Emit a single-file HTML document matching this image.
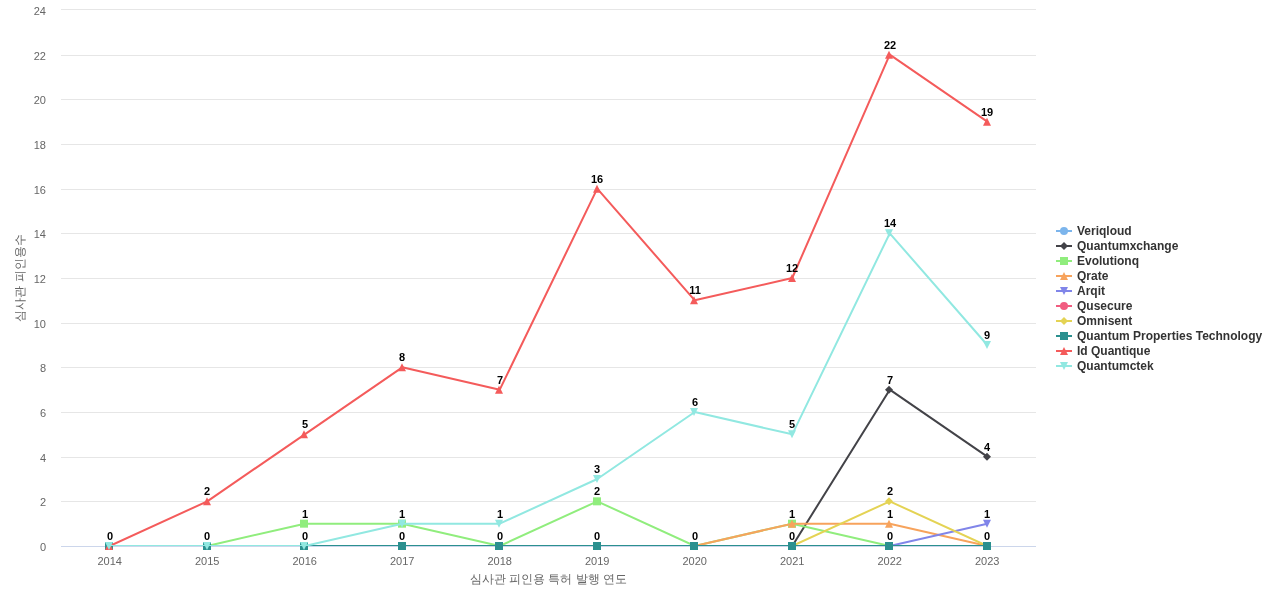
<!DOCTYPE html>
<html lang="ko"><head><meta charset="utf-8"><title>심사관 피인용수</title>
<style>html,body{margin:0;padding:0;background:#fff;overflow:hidden}svg{display:block;font-family:"Liberation Sans","WenQuanYi Zen Hei",sans-serif}.al text{font-size:11px;fill:#666}.dl text{font-size:11px;font-weight:bold;fill:#000;text-anchor:middle}.lg text{font-size:12px;font-weight:bold;fill:#333}</style></head><body>
<svg width="1280" height="600" viewBox="0 0 1280 600">
<rect x="0" y="0" width="1280" height="600" fill="#ffffff"/>
<g stroke="#e6e6e6" stroke-width="1" fill="none">
<path d="M61 546.5L1036 546.5"/>
<path d="M61 501.5L1036 501.5"/>
<path d="M61 457.5L1036 457.5"/>
<path d="M61 412.5L1036 412.5"/>
<path d="M61 367.5L1036 367.5"/>
<path d="M61 323.5L1036 323.5"/>
<path d="M61 278.5L1036 278.5"/>
<path d="M61 233.5L1036 233.5"/>
<path d="M61 189.5L1036 189.5"/>
<path d="M61 144.5L1036 144.5"/>
<path d="M61 99.5L1036 99.5"/>
<path d="M61 55.5L1036 55.5"/>
<path d="M61 9.5L1036 9.5"/>
</g>
<path d="M61 546.5L1036 546.5" stroke="#ccd6eb" stroke-width="1" fill="none"/>
<text x="470 482 494 506 509 521 533 545 548 560 572 576 588 600 603 615" y="583" style="font-size:12px;fill:#666">심사관 피인용 특허 발행 연도</text>
<text x="-20 -8 4 16 20 32 44 56" y="278" transform="rotate(270 24 278)" style="font-size:12px;fill:#666">심사관 피인용수</text>
<defs><clipPath id="pc"><rect x="61" y="10" width="975" height="536"/></clipPath></defs>
<g clip-path="url(#pc)"><path d="M109.75 546 L207.25 546 L304.75 546 L402.25 546 L499.75 546 L597.25 546 L694.75 546 L792.25 546 L889.75 546 L987.25 546" fill="none" stroke="#7cb5ec" stroke-width="2" stroke-linejoin="round" stroke-linecap="round"/></g>
<g>
<circle cx="109" cy="546" r="4" fill="#7cb5ec"/>
<circle cx="207" cy="546" r="4" fill="#7cb5ec"/>
<circle cx="304" cy="546" r="4" fill="#7cb5ec"/>
<circle cx="402" cy="546" r="4" fill="#7cb5ec"/>
<circle cx="499" cy="546" r="4" fill="#7cb5ec"/>
<circle cx="597" cy="546" r="4" fill="#7cb5ec"/>
<circle cx="694" cy="546" r="4" fill="#7cb5ec"/>
<circle cx="792" cy="546" r="4" fill="#7cb5ec"/>
<circle cx="889" cy="546" r="4" fill="#7cb5ec"/>
<circle cx="987" cy="546" r="4" fill="#7cb5ec"/>
</g>
<g clip-path="url(#pc)"><path d="M109.75 546 L207.25 546 L304.75 546 L402.25 546 L499.75 546 L597.25 546 L694.75 546 L792.25 546 L889.75 389.67 L987.25 456.67" fill="none" stroke="#434348" stroke-width="2" stroke-linejoin="round" stroke-linecap="round"/></g>
<g>
<path d="M109 542L113 546L109 550L105 546Z" fill="#434348"/>
<path d="M207 542L211 546L207 550L203 546Z" fill="#434348"/>
<path d="M304 542L308 546L304 550L300 546Z" fill="#434348"/>
<path d="M402 542L406 546L402 550L398 546Z" fill="#434348"/>
<path d="M499 542L503 546L499 550L495 546Z" fill="#434348"/>
<path d="M597 542L601 546L597 550L593 546Z" fill="#434348"/>
<path d="M694 542L698 546L694 550L690 546Z" fill="#434348"/>
<path d="M792 542L796 546L792 550L788 546Z" fill="#434348"/>
<path d="M889 385.67L893 389.67L889 393.67L885 389.67Z" fill="#434348"/>
<path d="M987 452.67L991 456.67L987 460.67L983 456.67Z" fill="#434348"/>
</g>
<g clip-path="url(#pc)"><path d="M109.75 546 L207.25 546 L304.75 523.67 L402.25 523.67 L499.75 546 L597.25 501.33 L694.75 546 L792.25 523.67 L889.75 546 L987.25 546" fill="none" stroke="#90ed7d" stroke-width="2" stroke-linejoin="round" stroke-linecap="round"/></g>
<g>
<path d="M105 542L113 542L113 550L105 550Z" fill="#90ed7d"/>
<path d="M203 542L211 542L211 550L203 550Z" fill="#90ed7d"/>
<path d="M300 519.67L308 519.67L308 527.67L300 527.67Z" fill="#90ed7d"/>
<path d="M398 519.67L406 519.67L406 527.67L398 527.67Z" fill="#90ed7d"/>
<path d="M495 542L503 542L503 550L495 550Z" fill="#90ed7d"/>
<path d="M593 497.33L601 497.33L601 505.33L593 505.33Z" fill="#90ed7d"/>
<path d="M690 542L698 542L698 550L690 550Z" fill="#90ed7d"/>
<path d="M788 519.67L796 519.67L796 527.67L788 527.67Z" fill="#90ed7d"/>
<path d="M885 542L893 542L893 550L885 550Z" fill="#90ed7d"/>
<path d="M983 542L991 542L991 550L983 550Z" fill="#90ed7d"/>
</g>
<g clip-path="url(#pc)"><path d="M109.75 546 L207.25 546 L304.75 546 L402.25 546 L499.75 546 L597.25 546 L694.75 546 L792.25 523.67 L889.75 523.67 L987.25 546" fill="none" stroke="#f7a35c" stroke-width="2" stroke-linejoin="round" stroke-linecap="round"/></g>
<g>
<path d="M109 542L113 550L105 550Z" fill="#f7a35c"/>
<path d="M207 542L211 550L203 550Z" fill="#f7a35c"/>
<path d="M304 542L308 550L300 550Z" fill="#f7a35c"/>
<path d="M402 542L406 550L398 550Z" fill="#f7a35c"/>
<path d="M499 542L503 550L495 550Z" fill="#f7a35c"/>
<path d="M597 542L601 550L593 550Z" fill="#f7a35c"/>
<path d="M694 542L698 550L690 550Z" fill="#f7a35c"/>
<path d="M792 519.67L796 527.67L788 527.67Z" fill="#f7a35c"/>
<path d="M889 519.67L893 527.67L885 527.67Z" fill="#f7a35c"/>
<path d="M987 542L991 550L983 550Z" fill="#f7a35c"/>
</g>
<g clip-path="url(#pc)"><path d="M109.75 546 L207.25 546 L304.75 546 L402.25 546 L499.75 546 L597.25 546 L694.75 546 L792.25 546 L889.75 546 L987.25 523.67" fill="none" stroke="#8085e9" stroke-width="2" stroke-linejoin="round" stroke-linecap="round"/></g>
<g>
<path d="M105 542L113 542L109 550Z" fill="#8085e9"/>
<path d="M203 542L211 542L207 550Z" fill="#8085e9"/>
<path d="M300 542L308 542L304 550Z" fill="#8085e9"/>
<path d="M398 542L406 542L402 550Z" fill="#8085e9"/>
<path d="M495 542L503 542L499 550Z" fill="#8085e9"/>
<path d="M593 542L601 542L597 550Z" fill="#8085e9"/>
<path d="M690 542L698 542L694 550Z" fill="#8085e9"/>
<path d="M788 542L796 542L792 550Z" fill="#8085e9"/>
<path d="M885 542L893 542L889 550Z" fill="#8085e9"/>
<path d="M983 519.67L991 519.67L987 527.67Z" fill="#8085e9"/>
</g>
<g clip-path="url(#pc)"><path d="M109.75 546 L207.25 546 L304.75 546 L402.25 546 L499.75 546 L597.25 546 L694.75 546 L792.25 546 L889.75 546 L987.25 546" fill="none" stroke="#f15c80" stroke-width="2" stroke-linejoin="round" stroke-linecap="round"/></g>
<g>
<circle cx="109" cy="546" r="4" fill="#f15c80"/>
<circle cx="207" cy="546" r="4" fill="#f15c80"/>
<circle cx="304" cy="546" r="4" fill="#f15c80"/>
<circle cx="402" cy="546" r="4" fill="#f15c80"/>
<circle cx="499" cy="546" r="4" fill="#f15c80"/>
<circle cx="597" cy="546" r="4" fill="#f15c80"/>
<circle cx="694" cy="546" r="4" fill="#f15c80"/>
<circle cx="792" cy="546" r="4" fill="#f15c80"/>
<circle cx="889" cy="546" r="4" fill="#f15c80"/>
<circle cx="987" cy="546" r="4" fill="#f15c80"/>
</g>
<g clip-path="url(#pc)"><path d="M109.75 546 L207.25 546 L304.75 546 L402.25 546 L499.75 546 L597.25 546 L694.75 546 L792.25 546 L889.75 501.33 L987.25 546" fill="none" stroke="#e4d354" stroke-width="2" stroke-linejoin="round" stroke-linecap="round"/></g>
<g>
<path d="M109 542L113 546L109 550L105 546Z" fill="#e4d354"/>
<path d="M207 542L211 546L207 550L203 546Z" fill="#e4d354"/>
<path d="M304 542L308 546L304 550L300 546Z" fill="#e4d354"/>
<path d="M402 542L406 546L402 550L398 546Z" fill="#e4d354"/>
<path d="M499 542L503 546L499 550L495 546Z" fill="#e4d354"/>
<path d="M597 542L601 546L597 550L593 546Z" fill="#e4d354"/>
<path d="M694 542L698 546L694 550L690 546Z" fill="#e4d354"/>
<path d="M792 542L796 546L792 550L788 546Z" fill="#e4d354"/>
<path d="M889 497.33L893 501.33L889 505.33L885 501.33Z" fill="#e4d354"/>
<path d="M987 542L991 546L987 550L983 546Z" fill="#e4d354"/>
</g>
<g clip-path="url(#pc)"><path d="M109.75 546 L207.25 546 L304.75 546 L402.25 546 L499.75 546 L597.25 546 L694.75 546 L792.25 546 L889.75 546 L987.25 546" fill="none" stroke="#2b908f" stroke-width="2" stroke-linejoin="round" stroke-linecap="round"/></g>
<g>
<path d="M105 542L113 542L113 550L105 550Z" fill="#2b908f"/>
<path d="M203 542L211 542L211 550L203 550Z" fill="#2b908f"/>
<path d="M300 542L308 542L308 550L300 550Z" fill="#2b908f"/>
<path d="M398 542L406 542L406 550L398 550Z" fill="#2b908f"/>
<path d="M495 542L503 542L503 550L495 550Z" fill="#2b908f"/>
<path d="M593 542L601 542L601 550L593 550Z" fill="#2b908f"/>
<path d="M690 542L698 542L698 550L690 550Z" fill="#2b908f"/>
<path d="M788 542L796 542L796 550L788 550Z" fill="#2b908f"/>
<path d="M885 542L893 542L893 550L885 550Z" fill="#2b908f"/>
<path d="M983 542L991 542L991 550L983 550Z" fill="#2b908f"/>
</g>
<g clip-path="url(#pc)"><path d="M109.75 546 L207.25 501.33 L304.75 434.33 L402.25 367.33 L499.75 389.67 L597.25 188.67 L694.75 300.33 L792.25 278 L889.75 54.67 L987.25 121.67" fill="none" stroke="#f45b5b" stroke-width="2" stroke-linejoin="round" stroke-linecap="round"/></g>
<g>
<path d="M109 542L113 550L105 550Z" fill="#f45b5b"/>
<path d="M207 497.33L211 505.33L203 505.33Z" fill="#f45b5b"/>
<path d="M304 430.33L308 438.33L300 438.33Z" fill="#f45b5b"/>
<path d="M402 363.33L406 371.33L398 371.33Z" fill="#f45b5b"/>
<path d="M499 385.67L503 393.67L495 393.67Z" fill="#f45b5b"/>
<path d="M597 184.67L601 192.67L593 192.67Z" fill="#f45b5b"/>
<path d="M694 296.33L698 304.33L690 304.33Z" fill="#f45b5b"/>
<path d="M792 274L796 282L788 282Z" fill="#f45b5b"/>
<path d="M889 50.67L893 58.67L885 58.67Z" fill="#f45b5b"/>
<path d="M987 117.67L991 125.67L983 125.67Z" fill="#f45b5b"/>
</g>
<g clip-path="url(#pc)"><path d="M109.75 546 L207.25 546 L304.75 546 L402.25 523.67 L499.75 523.67 L597.25 479 L694.75 412 L792.25 434.33 L889.75 233.33 L987.25 345" fill="none" stroke="#91e8e1" stroke-width="2" stroke-linejoin="round" stroke-linecap="round"/></g>
<g>
<path d="M105 542L113 542L109 550Z" fill="#91e8e1"/>
<path d="M203 542L211 542L207 550Z" fill="#91e8e1"/>
<path d="M300 542L308 542L304 550Z" fill="#91e8e1"/>
<path d="M398 519.67L406 519.67L402 527.67Z" fill="#91e8e1"/>
<path d="M495 519.67L503 519.67L499 527.67Z" fill="#91e8e1"/>
<path d="M593 475L601 475L597 483Z" fill="#91e8e1"/>
<path d="M690 408L698 408L694 416Z" fill="#91e8e1"/>
<path d="M788 430.33L796 430.33L792 438.33Z" fill="#91e8e1"/>
<path d="M885 229.33L893 229.33L889 237.33Z" fill="#91e8e1"/>
<path d="M983 341L991 341L987 349Z" fill="#91e8e1"/>
</g>
<g class="dl">
<text x="110.06" y="540">0</text>
<text x="207.06" y="495">2</text>
<text x="207.06" y="540">0</text>
<text x="305.06" y="428">5</text>
<text x="305.06" y="518">1</text>
<text x="305.06" y="540">0</text>
<text x="402.06" y="361">8</text>
<text x="402.06" y="518">1</text>
<text x="402.06" y="540">0</text>
<text x="500.06" y="384">7</text>
<text x="500.06" y="518">1</text>
<text x="500.06" y="540">0</text>
<text x="597.12" y="183">16</text>
<text x="597.06" y="473">3</text>
<text x="597.06" y="495">2</text>
<text x="597.06" y="540">0</text>
<text x="695.12" y="294">11</text>
<text x="695.06" y="406">6</text>
<text x="695.06" y="540">0</text>
<text x="792.12" y="272">12</text>
<text x="792.06" y="428">5</text>
<text x="792.06" y="518">1</text>
<text x="792.06" y="540">0</text>
<text x="890.12" y="49">22</text>
<text x="890.12" y="227">14</text>
<text x="890.06" y="384">7</text>
<text x="890.06" y="495">2</text>
<text x="890.06" y="518">1</text>
<text x="890.06" y="540">0</text>
<text x="987.12" y="116">19</text>
<text x="987.06" y="339">9</text>
<text x="987.06" y="451">4</text>
<text x="987.06" y="518">1</text>
<text x="987.06" y="540">0</text>
</g>
<g class="al" text-anchor="middle">
<text x="109.75" y="565">2014</text>
<text x="207.25" y="565">2015</text>
<text x="304.75" y="565">2016</text>
<text x="402.25" y="565">2017</text>
<text x="499.75" y="565">2018</text>
<text x="597.25" y="565">2019</text>
<text x="694.75" y="565">2020</text>
<text x="792.25" y="565">2021</text>
<text x="889.75" y="565">2022</text>
<text x="987.25" y="565">2023</text>
</g>
<g class="al" text-anchor="end">
<text x="46" y="551">0</text>
<text x="46" y="506.33">2</text>
<text x="46" y="461.67">4</text>
<text x="46" y="417">6</text>
<text x="46" y="372.33">8</text>
<text x="46" y="327.67">10</text>
<text x="46" y="283">12</text>
<text x="46" y="238.33">14</text>
<text x="46" y="193.67">16</text>
<text x="46" y="149">18</text>
<text x="46" y="104.33">20</text>
<text x="46" y="59.67">22</text>
<text x="46" y="15">24</text>
</g>
<g class="lg">
<path d="M1056 231L1072 231" stroke="#7cb5ec" stroke-width="2" fill="none"/>
<circle cx="1064" cy="231" r="4" fill="#7cb5ec"/>
<text x="1077" y="235">Veriqloud</text>
<path d="M1056 246L1072 246" stroke="#434348" stroke-width="2" fill="none"/>
<path d="M1064 242L1068 246L1064 250L1060 246Z" fill="#434348"/>
<text x="1077" y="250">Quantumxchange</text>
<path d="M1056 261L1072 261" stroke="#90ed7d" stroke-width="2" fill="none"/>
<path d="M1060 257L1068 257L1068 265L1060 265Z" fill="#90ed7d"/>
<text x="1077" y="265">Evolutionq</text>
<path d="M1056 276L1072 276" stroke="#f7a35c" stroke-width="2" fill="none"/>
<path d="M1064 272L1068 280L1060 280Z" fill="#f7a35c"/>
<text x="1077" y="280">Qrate</text>
<path d="M1056 291L1072 291" stroke="#8085e9" stroke-width="2" fill="none"/>
<path d="M1060 287L1068 287L1064 295Z" fill="#8085e9"/>
<text x="1077" y="295">Arqit</text>
<path d="M1056 306L1072 306" stroke="#f15c80" stroke-width="2" fill="none"/>
<circle cx="1064" cy="306" r="4" fill="#f15c80"/>
<text x="1077" y="310">Qusecure</text>
<path d="M1056 321L1072 321" stroke="#e4d354" stroke-width="2" fill="none"/>
<path d="M1064 317L1068 321L1064 325L1060 321Z" fill="#e4d354"/>
<text x="1077" y="325">Omnisent</text>
<path d="M1056 336L1072 336" stroke="#2b908f" stroke-width="2" fill="none"/>
<path d="M1060 332L1068 332L1068 340L1060 340Z" fill="#2b908f"/>
<text x="1077" y="340">Quantum Properties Technology</text>
<path d="M1056 351L1072 351" stroke="#f45b5b" stroke-width="2" fill="none"/>
<path d="M1064 347L1068 355L1060 355Z" fill="#f45b5b"/>
<text x="1077" y="355">Id Quantique</text>
<path d="M1056 366L1072 366" stroke="#91e8e1" stroke-width="2" fill="none"/>
<path d="M1060 362L1068 362L1064 370Z" fill="#91e8e1"/>
<text x="1077" y="370">Quantumctek</text>
</g>
</svg></body></html>
